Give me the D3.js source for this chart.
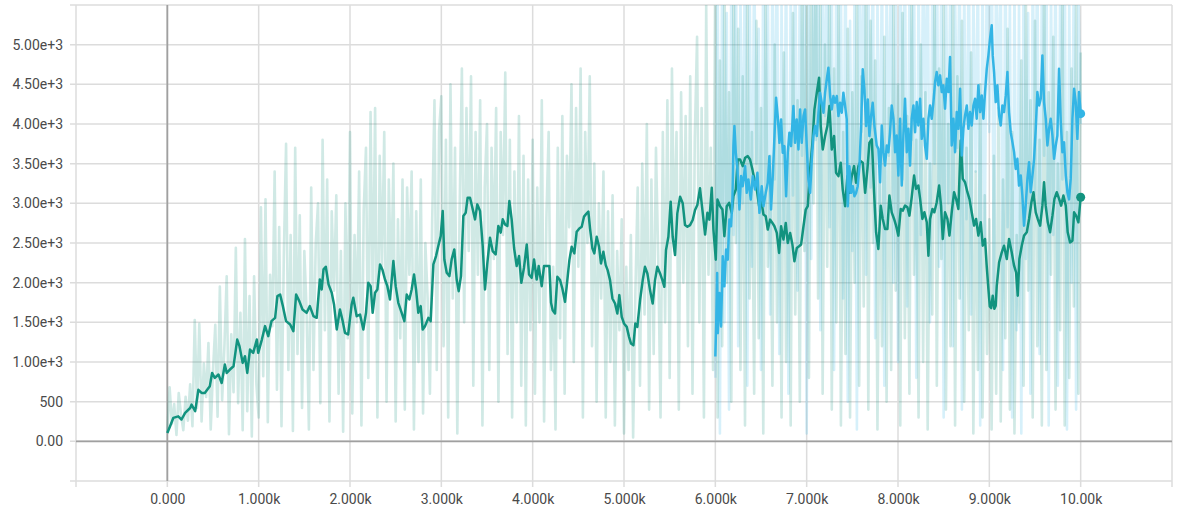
<!DOCTYPE html>
<html>
<head>
<meta charset="utf-8">
<script src="https://cdn.jsdelivr.net/npm/d3@7"></script>
<style>
  body { margin: 0; background: #fff; }
  svg text { font-family: Roboto, "Liberation Sans", sans-serif; }
</style>
</head>
<body>
<svg id="chart" width="1182" height="511"></svg>
<script>
// ---- axis ticks ----
const yTickValues = [0, 500, 1000, 1500, 2000, 2500, 3000, 3500, 4000, 4500, 5000];
const yTickLabels = ["0.00", "500", "1.00e+3", "1.50e+3", "2.00e+3", "2.50e+3", "3.00e+3", "3.50e+3", "4.00e+3", "4.50e+3", "5.00e+3"];
const xTickValues = [0, 1000, 2000, 3000, 4000, 5000, 6000, 7000, 8000, 9000, 10000];
const xTickLabels = ["0.000", "1.000k", "2.000k", "3.000k", "4.000k", "5.000k", "6.000k", "7.000k", "8.000k", "9.000k", "10.00k"];

// ---- run A (teal): raw values, one every 25 steps from 0 to 10000 ----
const rawStepA = 25;
const rawA = [
  110,680,220,470,80,610,330,140,560,260,720,190,1530,420,1480,250,980,560,1240,150,890,1470,310,1950,520,1200,2080,90,1350,620,2440,480,1620,140,2550,380,1830,60,2080,720,
  300,2950,820,3050,240,2100,1450,3400,650,2700,190,2300,3750,900,2600,130,3700,1100,2850,420,2400,1650,150,3200,900,2500,3000,480,3800,1400,3300,250,2900,1900,3100,600,2400,120,3000,1300,
  3900,350,2600,1500,3400,200,2900,3700,800,4150,1700,4200,300,3600,2200,3900,500,3300,1900,3500,250,2800,1300,3300,400,3200,2100,3400,150,2900,1000,3300,350,2500,1800,600,2800,4300,900,3900,
  4350,1200,3800,300,4500,1800,3700,100,2900,4700,1500,4200,2400,4600,700,3900,2100,4300,200,3200,4000,900,3700,2300,4200,500,3900,2600,4650,1100,3800,300,3400,1500,4100,700,3600,200,3300,1400,
  3800,600,3200,1500,4300,250,2800,3900,900,2200,150,3700,1300,4100,600,3600,2700,4500,1000,4200,2200,4700,300,3900,2500,4600,1200,3500,500,3000,1800,3400,300,2900,1000,3100,200,2400,1400,2800,
  100,2200,900,2600,50,1900,3200,700,3500,1600,4000,400,3300,1100,3700,2300,300,3900,1500,4300,800,4700,2400,3900,400,4400,2000,4100,1200,4600,600,3800,5100,1500,4200,300,5500,2100,3700,900,
  6200,300,4800,1200,5900,2000,4400,500,6000,2500,5200,900,4600,200,5800,1800,3900,600,5300,1300,4200,100,5600,2200,3600,700,5000,1500,4000,300,4900,1000,3700,200,5400,1600,4300,500,6100,2400,
  5700,800,6300,3000,6500,1800,5900,600,5000,2200,6200,400,4700,1500,5500,200,3900,1100,5200,300,4400,2000,5800,700,4600,1700,6000,400,5300,2500,4800,150,3600,1200,5100,500,4200,900,5600,1900,
  4500,200,5400,1300,4100,600,5700,2100,3800,300,5000,1000,4400,150,3500,1600,5900,700,4700,2300,5500,400,4000,1200,6200,200,4600,1800,5300,500,3700,1400,4900,100,3400,900,4500,300,3100,1100,
  2800,150,3600,600,4200,250,3300,1300,5200,400,3900,100,2600,1500,4800,700,5600,1900,4300,300,5300,1200,3800,200,6000,900,4400,2100,5100,400,3500,1400,5800,200,3900,800,4700,1700,5500,600,4900
];

// ---- run B (blue): raw values, one every 25 steps from 6000 to 10000 ----
const rawStartB = 6000;
const rawStepB = 25;
const rawB = [
  800,5800,100,6200,1500,5400,400,6000,2600,6300,1200,5600,3000,6400,700,5900,2200,6100,3500,5200,900,6300,2800,5700,1600,6000,3300,6500,1100,5500,2500,6200,600,5800,3100,6400,1900,5900,3600,6100,
  100,5600,2300,6300,3800,6600,1400,6000,4100,6400,2700,5900,900,6200,3400,5700,1800,6500,500,5300,2400,5800,150,6100,3900,6600,2100,5900,3200,6300,1300,5600,2900,6200,700,5800,3600,6400,2000,5500,
  1000,6100,3300,6500,1700,5700,3800,6300,800,5900,2600,6200,4000,6400,1500,5800,3500,6600,2200,6100,300,5900,3000,6300,1200,5600,3700,6200,400,5800,2800,6400,1600,5700,3400,6100,200,6000,2500,6500,
  3900,6700,1800,6200,4200,5900,900,6300,2700,5600,300,5800,1400,5500,100,6000,2300,5400,600,6100,3100,6400,1100,5900,3600,6300,200,5700,2600,6200,700,5800,3300,6500,150,5600,2000,6100,400,5700,4000
];

// ---- smoothed curves: [step, value] ----
const smoothA = [
  [0,105],[30,190],[65,295],[120,315],[155,275],[195,358],[250,420],[265,463],[305,380],[340,650],[375,610],[410,610],[465,695],[490,862],[520,800],[560,842],[595,736],[630,968],[650,862],[685,905],[725,947],[765,1283],[790,1199],[825,989],[850,1073],[875,862],[905,1157],[940,1115],[980,1283],[995,1115],
  [1035,1283],[1070,1452],[1105,1326],[1140,1515],[1180,1557],[1205,1830],[1235,1851],[1265,1704],[1300,1515],[1345,1473],[1380,1389],[1410,1851],[1445,1767],[1480,1662],[1525,1620],[1560,1704],[1600,1578],[1635,1557],[1670,2041],[1690,1915],[1710,2168],[1735,2200],[1765,1978],[1800,1873],[1825,1725],[1855,1410],[1890,1662],[1920,1515],[1945,1368],[1980,1347],
  [2018,1725],[2036,1809],[2073,1577],[2110,1598],[2146,1409],[2175,1620],[2200,1998],[2226,1956],[2248,1620],[2274,1872],[2300,1914],[2329,2230],[2354,2167],[2383,2040],[2409,1956],[2438,1788],[2475,2272],[2500,1956],[2529,1746],[2566,1620],[2595,1515],[2621,1851],[2650,1788],[2675,1914],[2701,2103],[2723,1914],[2748,1620],[2774,1704],[2796,1409],[2821,1451],[2858,1556],[2883,1515],
  [2913,2230],[2942,2335],[2967,2461],[2993,2587],[3015,2903],[3033,2293],[3059,2125],[3088,2083],[3113,2293],[3142,2419],[3168,2040],[3190,1893],[3215,2083],[3241,2840],[3267,2882],[3288,3071],[3314,3071],[3340,2945],[3369,2798],[3394,2987],[3424,2903],[3453,2461],[3478,1914],[3504,2251],[3533,2567],[3562,2398],[3595,2356],[3624,2714],[3650,2630],[3672,2798],[3697,2735],[3723,2714],[3745,3029],[3770,2798],[3796,2440],[3825,2209],[3851,2335],[3876,1998],[3905,2188],[3935,2482],[3960,2103],[3989,2061],
  [4015,2293],[4044,2040],[4066,2209],[4099,1956],[4124,2209],[4153,2209],[4183,2209],[4201,1746],[4219,1653],[4245,1611],[4270,2074],[4300,2032],[4325,1927],[4354,1758],[4372,1948],[4402,2284],[4427,2453],[4456,2369],[4482,2642],[4511,2684],[4537,2705],[4562,2832],[4592,2874],[4610,2895],[4628,2684],[4654,2432],[4675,2369],[4701,2579],[4727,2453],[4748,2242],[4774,2390],[4800,2221],[4821,2158],[4847,2032],[4873,1801],[4902,1737],[4927,1611],[4949,1843],[4975,1569],
  [5000,1485],[5030,1443],[5055,1317],[5077,1232],[5103,1211],[5124,1485],[5146,1443],[5176,1779],[5205,2032],[5230,2200],[5256,2116],[5285,1906],[5314,1737],[5340,2032],[5365,2200],[5395,2116],[5420,2032],[5442,1948],[5460,2411],[5486,2579],[5511,3021],[5533,2579],[5559,2348],[5584,2874],[5614,3084],[5643,3000],[5668,2726],[5694,2705],[5723,2726],[5752,2790],[5778,2916],[5803,2979],[5832,3189],[5862,2880],[5888,2606],[5913,2880],[5935,2795],[5961,3195],[5979,2669],
  [6005,2290],[6023,3048],[6052,2964],[6078,2922],[6099,2585],[6125,2964],[6151,3006],[6180,2880],[6198,3090],[6224,3174],[6245,3553],[6271,3553],[6300,3469],[6326,3574],[6355,3595],[6380,3553],[6406,3427],[6428,3301],[6454,3174],[6479,2964],[6501,3048],[6527,2859],[6552,2838],[6574,2669],[6600,2795],[6625,2753],[6647,2711],[6673,2627],[6698,2375],[6720,2711],[6746,2543],[6771,2753],[6793,2501],[6819,2627],[6844,2480],[6866,2269],[6892,2438],[6917,2459],[6939,2480],[6965,2711],[6990,2922],
  [7012,2964],[7038,3427],[7063,3763],[7085,4184],[7111,4395],[7136,4584],[7154,3974],[7176,3679],[7202,3848],[7227,3974],[7249,4226],[7275,3679],[7300,3848],[7322,3385],[7348,3343],[7373,3511],[7395,3174],[7421,2964],[7446,3343],[7468,3132],[7494,3343],[7519,3469],[7541,3258],[7567,3469],[7592,3532],[7614,3511],[7640,3132],[7665,3427],[7687,3763],[7713,3806],[7723,3561],[7738,3140],[7760,2635],[7785,2424],[7811,2971],[7833,2803],[7858,2677],[7884,2677],[7906,3098],[7931,2887],[7957,2803],[7979,2719],
  [8004,2593],[8030,2929],[8052,2908],[8077,2971],[8103,2950],[8125,2845],[8150,3077],[8176,3350],[8198,3182],[8223,3224],[8242,3056],[8267,2803],[8289,2887],[8315,2761],[8333,2340],[8351,2803],[8377,2929],[8398,2887],[8424,3014],[8450,3224],[8471,2971],[8490,2551],[8515,2887],[8541,2803],[8563,2593],[8588,2887],[8614,3140],[8636,3056],[8661,2929],[8687,3792],[8709,3308],[8734,3266],[8760,3140],[8782,3056],[8807,2887],[8833,2719],[8855,2803],[8880,2593],[8906,2761],[8928,2466],[8953,2551],[8971,2214],[8990,1919],
  [9005,1700],[9020,1680],[9037,1835],[9055,1670],[9070,1709],[9081,1961],[9107,2256],[9136,2382],[9161,2466],[9191,2298],[9216,2551],[9245,2382],[9271,2214],[9293,2130],[9311,1835],[9329,2298],[9355,2466],[9380,2593],[9410,2635],[9435,2803],[9461,3014],[9483,3140],[9508,2887],[9530,2803],[9556,2719],[9581,2971],[9599,3266],[9617,2971],[9640,2761],[9665,2635],[9691,2845],[9713,3056],[9738,3140],[9764,3056],[9786,2971],[9811,3098],[9837,2971],[9858,2635],[9884,2508],[9910,2529],[9928,2887],[9950,2845],[9975,2761],[10000,3077]
];

const smoothB = [
  [6000,1070],[6010,1500],[6020,2122],[6027,1364],[6045,1870],[6063,1449],[6081,2333],[6099,1954],[6118,2417],[6136,2290],[6154,2795],[6172,2711],[6187,3048],[6198,3721],[6209,3974],[6224,3637],[6242,3427],[6264,2922],[6282,3343],[6300,3216],[6326,3469],[6344,3132],[6362,3301],[6388,3048],[6410,3343],[6435,3174],[6461,3385],[6483,2880],[6508,3216],[6527,2964],[6552,3132],[6574,3258],[6592,3595],[6610,2922],[6629,3343],[6643,3721],[6665,4332],[6683,4100],[6702,3763],[6720,4058],[6738,3637],[6756,3721],[6775,3090],[6793,3637],[6811,3890],[6829,3721],[6855,4226],[6873,3763],[6891,4058],[6910,3679],[6928,4184],[6946,3763],[6965,4100],[6983,4184],
  [7001,3721],[7019,3301],[7038,3132],[7056,3553],[7074,3848],[7092,3974],[7111,3848],[7129,4142],[7147,4395],[7165,4268],[7184,4142],[7202,4395],[7220,4563],[7238,4710],[7257,4353],[7275,4184],[7293,4353],[7311,4268],[7330,4353],[7348,4100],[7366,4268],[7384,4142],[7402,4395],[7421,4226],[7439,4058],[7450,2964],[7468,3469],[7486,3132],[7505,3216],[7523,3090],[7541,3132],[7559,3216],[7578,3469],[7596,3974],[7614,4689],[7632,4437],[7651,3974],[7669,4310],[7687,3848],[7705,4100],[7723,4268],[7742,3974],[7767,3729],[7785,3687],[7804,3266],[7822,3981],[7840,3645],[7858,3476],[7877,3729],[7895,3645],[7913,3897],[7931,4234],[7950,4066],[7968,3645],[7986,3855],
  [8004,3350],[8023,4066],[8041,3224],[8059,3855],[8077,4318],[8096,3645],[8114,3939],[8132,3476],[8150,4066],[8169,4234],[8187,3897],[8205,4276],[8223,3981],[8242,4318],[8260,3813],[8278,4066],[8296,3729],[8315,3561],[8333,4066],[8351,4234],[8369,4066],[8388,4276],[8406,4529],[8424,4655],[8442,4487],[8461,4613],[8479,4402],[8497,4487],[8515,4192],[8534,4571],[8552,4402],[8570,4844],[8588,3729],[8607,4066],[8625,3645],[8643,4150],[8661,3939],[8680,4444],[8698,3603],[8716,3939],[8734,4108],[8753,4234],[8771,3939],[8789,4150],[8807,3981],[8826,4234],[8844,4318],[8862,4066],[8880,4487],[8899,4150],[8917,4360],[8935,4066],[8953,4402],[8972,4697],[8990,4865],
  [9008,5076],[9026,5244],[9037,4865],[9052,4655],[9070,4276],[9088,4487],[9107,4108],[9125,3981],[9143,4234],[9161,4150],[9180,4360],[9198,4655],[9216,4150],[9234,3897],[9253,3771],[9271,3645],[9289,3434],[9307,3561],[9325,3224],[9344,3350],[9362,3098],[9380,2719],[9398,2971],[9417,3308],[9435,3519],[9453,3140],[9472,3350],[9490,3561],[9508,3939],[9526,4402],[9545,4234],[9563,4318],[9581,4865],[9599,4276],[9618,4066],[9636,3729],[9654,3939],[9672,4066],[9691,3855],[9709,3561],[9727,3729],[9745,3855],[9763,4697],[9782,4024],[9800,3645],[9818,3771],[9837,3350],[9855,3140],[9873,3050],[9891,3308],[9910,4066],[9928,4444],[9946,4276],[9964,3813],[9982,4402],[10000,4130]
];

const colorA = "#12937f";
const colorB = "#33b5e5";

// ---- layout ----
const svg = d3.select("#chart");
const plotLeft = 76, plotRight = 1172, plotTop = 5, plotBottom = 481;

const x = d3.scaleLinear().domain([-1000, 11000]).range([plotLeft, plotRight]);
const y = d3.scaleLinear().domain([-500, 5500]).range([plotBottom, plotTop]);

svg.append("defs").append("clipPath").attr("id", "plot-clip")
  .append("rect").attr("x", plotLeft).attr("y", plotTop)
  .attr("width", plotRight - plotLeft).attr("height", plotBottom - plotTop);

// grid
const hGrid = d3.range(-500, 5501, 500);
const vGrid = d3.range(-1000, 11001, 1000);
const grid = svg.append("g");
grid.selectAll("line.h").data(hGrid).join("line").attr("class", "h")
  .attr("x1", plotLeft - 6).attr("x2", plotRight)
  .attr("y1", d => y(d)).attr("y2", d => y(d))
  .attr("stroke", "#dcdcdc").attr("stroke-width", 1.5);
grid.selectAll("line.v").data(vGrid).join("line").attr("class", "v")
  .attr("x1", d => x(d)).attr("x2", d => x(d))
  .attr("y1", plotTop).attr("y2", plotBottom + 6)
  .attr("stroke", "#dcdcdc").attr("stroke-width", 1.5);
// zero lines
grid.append("line").attr("x1", plotLeft).attr("x2", plotRight)
  .attr("y1", y(0)).attr("y2", y(0)).attr("stroke", "#a0a0a0").attr("stroke-width", 1.8);
grid.append("line").attr("x1", x(0)).attr("x2", x(0))
  .attr("y1", plotTop).attr("y2", plotBottom).attr("stroke", "#a0a0a0").attr("stroke-width", 1.8);

// axes (labels only)
const yAxis = d3.axisLeft(y).tickValues(yTickValues)
  .tickFormat((d, i) => yTickLabels[i]).tickSize(0).tickPadding(13);
const xAxis = d3.axisBottom(x).tickValues(xTickValues)
  .tickFormat((d, i) => xTickLabels[i]).tickSize(0).tickPadding(13);

const gy = svg.append("g").attr("transform", `translate(${plotLeft},0)`).call(yAxis);
const gx = svg.append("g").attr("transform", `translate(0,${plotBottom})`).call(xAxis);
[gy, gx].forEach(g => {
  g.select(".domain").remove();
  g.selectAll("text").attr("fill", "#4a4a4a").style("font-size", "14px");
});

// series
const plot = svg.append("g").attr("clip-path", "url(#plot-clip)");
const line = d3.line().x(d => x(d[0])).y(d => y(d[1]));

const rawPtsA = rawA.map((v, i) => [i * rawStepA, v]);
const rawPtsB = rawB.map((v, i) => [rawStartB + i * rawStepB, v]);

plot.append("path").datum(rawPtsB).attr("d", line)
  .attr("fill", "none").attr("stroke", colorB).attr("stroke-opacity", 0.2)
  .attr("stroke-width", 2.6).attr("stroke-linejoin", "round");
plot.append("path").datum(rawPtsA).attr("d", line)
  .attr("fill", "none").attr("stroke", colorA).attr("stroke-opacity", 0.2)
  .attr("stroke-width", 2.6).attr("stroke-linejoin", "round");

plot.append("path").datum(smoothA).attr("d", line)
  .attr("fill", "none").attr("stroke", colorA).attr("stroke-width", 2.5)
  .attr("stroke-linejoin", "round");
plot.append("path").datum(smoothB).attr("d", line)
  .attr("fill", "none").attr("stroke", colorB).attr("stroke-width", 2.5)
  .attr("stroke-linejoin", "round");

// end markers
[[smoothA, colorA], [smoothB, colorB]].forEach(([s, c]) => {
  const last = s[s.length - 1];
  plot.append("circle").attr("cx", x(last[0])).attr("cy", y(last[1]))
    .attr("r", 4.5).attr("fill", c);
});
</script>
</body>
</html>
